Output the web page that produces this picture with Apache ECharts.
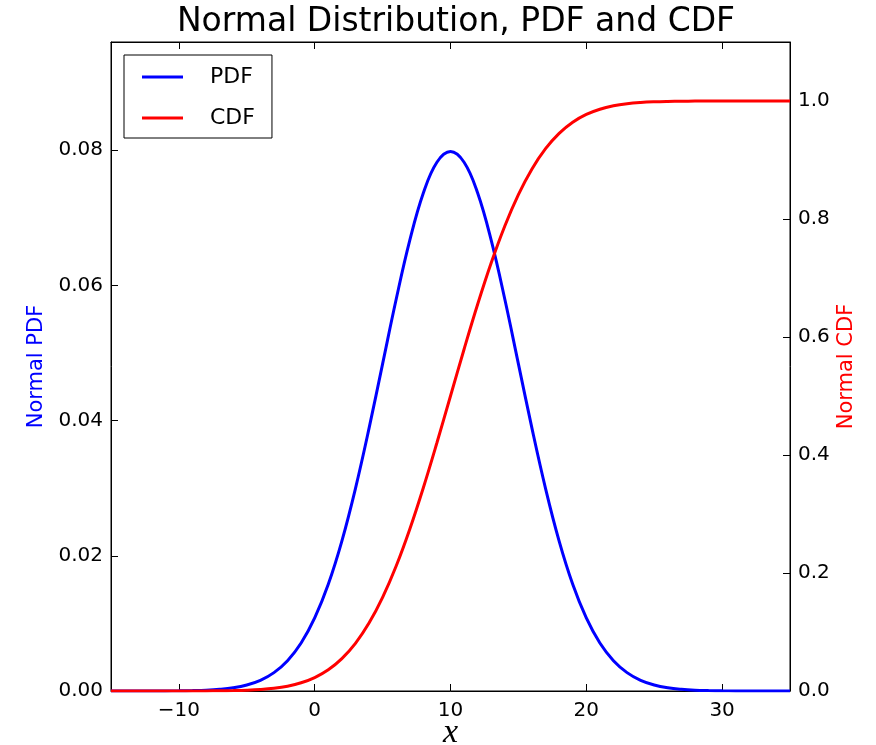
<!DOCTYPE html>
<html>
<head>
<meta charset="utf-8">
<script src="https://cdn.jsdelivr.net/npm/echarts@6/dist/echarts.min.js"></script>
<style>html,body{margin:0;padding:0;background:#fff}#c{width:876px;height:745px}</style>
</head>
<body>
<div id="c"></div>
<script>
const xValues = [-15,-14,-13,-12,-11,-10,-9,-8,-7,-6,-5,-4,-3,-2,-1,0,1,2,3,4,5,6,7,8,9,10,11,12,13,14,15,16,17,18,19,20,21,22,23,24,25,26,27,28,29,30,31,32,33,34,35];
const pdfValues = [0,0,0,0,0.00001,0.00003,0.00006,0.00012,0.00025,0.00048,0.00089,0.00158,0.00272,0.00448,0.00709,0.01080,0.01579,0.02218,0.02995,0.03884,0.04839,0.05794,0.06664,0.07365,0.07821,0.07979,0.07821,0.07365,0.06664,0.05794,0.04839,0.03884,0.02995,0.02218,0.01579,0.01080,0.00709,0.00448,0.00272,0.00158,0.00089,0.00048,0.00025,0.00012,0.00006,0.00003,0.00001,0,0,0,0];
const cdfValues = [0,0,0,0,0.00001,0.00003,0.00007,0.00016,0.00034,0.00069,0.00135,0.00256,0.00466,0.00820,0.01390,0.02275,0.03593,0.05480,0.08076,0.11507,0.15866,0.21186,0.27425,0.34458,0.42074,0.5,0.57926,0.65542,0.72575,0.78814,0.84134,0.88493,0.91924,0.94520,0.96407,0.97725,0.98610,0.99180,0.99534,0.99744,0.99865,0.99931,0.99966,0.99984,0.99993,0.99997,0.99999,1,1,1,1];
const xTickValues = [-10,0,10,20,30];
const pdfTickValues = [0,0.02,0.04,0.06,0.08];
const cdfTickValues = [0,0.2,0.4,0.6,0.8,1.0];
const seriesNames = ['PDF','CDF'];
const titleText = 'Normal Distribution, PDF and CDF';
const leftAxisName = 'Normal PDF';
const rightAxisName = 'Normal CDF';
const xAxisName = 'x';

const pdfData = xValues.map((x,i)=>[x,pdfValues[i]]);
const cdfData = xValues.map((x,i)=>[x,cdfValues[i]]);

const font = 'DejaVu Sans';
const chart = echarts.init(document.getElementById('c'), null, {renderer:'canvas'});
function tick(vals){return {show:true, inside:true, length:7, customValues:vals, lineStyle:{color:'#000', width:1}};}
chart.setOption({
  animation:false,
  backgroundColor:'#fff',
  title:{text:titleText, left:451, textAlign:'center', top:1, textStyle:{fontFamily:font, fontSize:33, fontWeight:'normal', color:'#000'}},
  grid:{left:111, right:86, top:42, bottom:54, outerBoundsMode:'none', containLabel:false, show:true, borderColor:'#000', borderWidth:1, backgroundColor:'#fff'},
  legend:{
    left:124, top:55, orient:'vertical', data:seriesNames,
    borderColor:'#000', borderWidth:1, borderRadius:0, padding:[11,17,9,18],
    itemWidth:41, itemHeight:3, itemGap:19, icon:'rect',
    textStyle:{fontFamily:font, fontSize:22, color:'#000', padding:[0,0,0,22]}
  },
  xAxis:[{
    type:'value', min:-15, max:35, position:'bottom',
    name:xAxisName, nameLocation:'middle', nameGap:25, nameMoveOverlap:false,
    nameTextStyle:{fontFamily:'Liberation Serif', fontStyle:'italic', fontSize:34, color:'#000', lineHeight:34},
    axisLine:{show:true, onZero:false, lineStyle:{color:'#000', width:1}},
    axisTick:tick(xTickValues),
    axisLabel:{fontFamily:font, fontSize:20, color:'#000', margin:10, customValues:xTickValues,
      formatter:v=> (v<0?'\u2212'+Math.abs(v):String(v))},
    splitLine:{show:false}
  },{
    type:'value', min:-15, max:35, position:'top',
    axisLine:{show:true, onZero:false, lineStyle:{color:'#000', width:1}},
    axisTick:tick(xTickValues), axisLabel:{show:false}, splitLine:{show:false}
  }],
  yAxis:[{
    type:'value', min:0, max:0.096, position:'left',
    name:leftAxisName, nameLocation:'middle', nameRotate:90, nameGap:64, nameMoveOverlap:false,
    nameTextStyle:{fontFamily:font, fontSize:21, color:'#0000ff'},
    axisLine:{show:true, onZero:false, lineStyle:{color:'#000', width:1}},
    axisTick:tick(pdfTickValues),
    axisLabel:{fontFamily:font, fontSize:20, color:'#000', margin:8, customValues:pdfTickValues,
      formatter:v=> v.toFixed(2)},
    splitLine:{show:false}
  },{
    type:'value', min:0, max:1.1, position:'right',
    name:rightAxisName, nameLocation:'middle', nameRotate:90, nameGap:46, nameMoveOverlap:false,
    nameTextStyle:{fontFamily:font, fontSize:21, color:'#ff0000'},
    axisLine:{show:true, onZero:false, lineStyle:{color:'#000', width:1}},
    axisTick:tick(cdfTickValues),
    axisLabel:{fontFamily:font, fontSize:20, color:'#000', margin:8, customValues:cdfTickValues,
      formatter:v=> v.toFixed(1)},
    splitLine:{show:false}
  }],
  series:[{
    name:seriesNames[0], type:'line', xAxisIndex:0, yAxisIndex:0, data:pdfData,
    smooth:0.4, showSymbol:false, symbol:'none', color:'#0000ff',
    lineStyle:{color:'#0000ff', width:3}
  },{
    name:seriesNames[1], type:'line', xAxisIndex:0, yAxisIndex:1, data:cdfData,
    smooth:0.4, showSymbol:false, symbol:'none', color:'#ff0000',
    lineStyle:{color:'#ff0000', width:3}
  }]
});
</script>
</body>
</html>
